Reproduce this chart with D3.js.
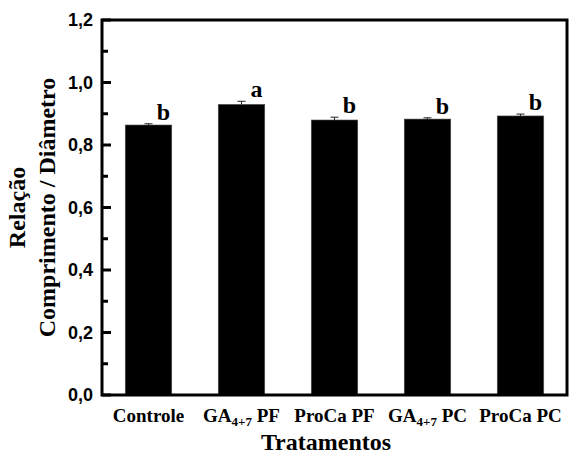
<!DOCTYPE html>
<html>
<head>
<meta charset="utf-8">
<script src="https://cdn.jsdelivr.net/npm/d3@7"></script>
<style>
  body { margin: 0; background: #fff; }
  .tick-lbl { font-family: "Liberation Sans", Arial, sans-serif; font-weight: bold; font-size: 18px; }
  .cat { font-family: "Liberation Serif", "Times New Roman", serif; font-weight: bold; font-size: 19px; }
  .title { font-family: "Liberation Serif", "Times New Roman", serif; font-weight: bold; font-size: 24px; }
  .letter { font-family: "Liberation Serif", "Times New Roman", serif; font-weight: bold; font-size: 24px; }
</style>
</head>
<body>
<div id="chart"></div>
<script>
  var w = 570, h = 454;

  // tratamentos
  var categories = ["Controle", "GA4+7 PF", "ProCa PF", "GA4+7 PC", "ProCa PC"];
  var values = [0.864, 0.930, 0.880, 0.883, 0.893];
  var errors = [0.004, 0.010, 0.009, 0.004, 0.006];
  var letters = ["b", "a", "b", "b", "b"];
  var yTicks = [0, 0.2, 0.4, 0.6, 0.8, 1.0, 1.2];
  var yMinor = [0.1, 0.3, 0.5, 0.7, 0.9, 1.1];

  var pL = 102, pR = 567, pT = 20, pB = 395;

  var svg = d3.select("#chart").append("svg")
    .attr("width", w).attr("height", h);

  var x = d3.scaleBand().domain(categories)
    .range([pL, pR]).paddingInner(0.5).paddingOuter(0.25);
  var y = d3.scaleLinear().domain([0, 1.2]).range([pB, pT]);

  function cx(i) { return x(categories[i]) + x.bandwidth() / 2; }

  // bars
  svg.selectAll("rect.bar").data(values).enter().append("rect")
    .attr("class", "bar")
    .attr("x", function(d, i) { return x(categories[i]); })
    .attr("y", function(d) { return y(d); })
    .attr("width", x.bandwidth())
    .attr("height", function(d) { return y(0) - y(d); })
    .attr("fill", "#000")
    .attr("stroke", "#555").attr("stroke-width", 0.6);

  // error bars (upper only)
  var eb = svg.selectAll("g.err").data(values).enter().append("g").attr("class", "err");
  eb.append("line")
    .attr("x1", function(d, i) { return cx(i); })
    .attr("x2", function(d, i) { return cx(i); })
    .attr("y1", function(d) { return y(d); })
    .attr("y2", function(d, i) { return y(d + errors[i]); })
    .attr("stroke", "#222").attr("stroke-width", 1);
  eb.append("line")
    .attr("x1", function(d, i) { return cx(i) - 4; })
    .attr("x2", function(d, i) { return cx(i) + 4; })
    .attr("y1", function(d, i) { return y(d + errors[i]); })
    .attr("y2", function(d, i) { return y(d + errors[i]); })
    .attr("stroke", "#222").attr("stroke-width", 1);

  // significance letters
  svg.selectAll("text.letter").data(values).enter().append("text")
    .attr("class", "letter")
    .attr("x", function(d, i) { return cx(i) + 15; })
    .attr("y", function(d, i) { return y(d + errors[i]) - 4; })
    .attr("text-anchor", "middle")
    .text(function(d, i) { return letters[i]; });

  // frame
  svg.append("rect")
    .attr("x", pL).attr("y", pT)
    .attr("width", pR - pL).attr("height", pB - pT)
    .attr("fill", "none").attr("stroke", "#000").attr("stroke-width", 3);

  // y ticks, pointing inward
  svg.selectAll("line.major").data(yTicks).enter().append("line")
    .attr("class", "major")
    .attr("x1", pL).attr("x2", pL + 9)
    .attr("y1", function(d) { return y(d); }).attr("y2", function(d) { return y(d); })
    .attr("stroke", "#000").attr("stroke-width", 3);
  svg.selectAll("line.minor").data(yMinor).enter().append("line")
    .attr("class", "minor")
    .attr("x1", pL).attr("x2", pL + 6)
    .attr("y1", function(d) { return y(d); }).attr("y2", function(d) { return y(d); })
    .attr("stroke", "#000").attr("stroke-width", 3);

  svg.selectAll("text.tick-lbl").data(yTicks).enter().append("text")
    .attr("class", "tick-lbl")
    .attr("x", pL - 9)
    .attr("y", function(d) { return y(d); })
    .attr("dy", "0.36em")
    .attr("text-anchor", "end")
    .text(function(d) { return d3.format(".1f")(d).replace(".", ","); });

  // category labels with subscript
  var cat = svg.selectAll("text.cat").data(categories).enter().append("text")
    .attr("class", "cat")
    .attr("x", function(d) { return x(d) + x.bandwidth() / 2; })
    .attr("y", 422)
    .attr("text-anchor", "middle");
  cat.each(function(d) {
    var t = d3.select(this);
    var m = d.match(/^GA(4\+7)(.*)$/);
    if (m) {
      t.append("tspan").text("GA");
      t.append("tspan").attr("dy", 4).style("font-size", "13px").text(m[1]);
      t.append("tspan").attr("dy", -4).text(m[2]);
    } else {
      t.text(d);
    }
  });

  // axis titles
  svg.append("text").attr("class", "title")
    .attr("x", 326).attr("y", 450)
    .attr("text-anchor", "middle")
    .text("Tratamentos");

  var my = (pT + pB) / 2;
  svg.append("text").attr("class", "title")
    .attr("transform", "translate(25," + my + ") rotate(-90)")
    .attr("text-anchor", "middle")
    .text("Relação");
  svg.append("text").attr("class", "title")
    .attr("transform", "translate(55," + my + ") rotate(-90)")
    .attr("text-anchor", "middle")
    .text("Comprimento / Diâmetro");
</script>
</body>
</html>
